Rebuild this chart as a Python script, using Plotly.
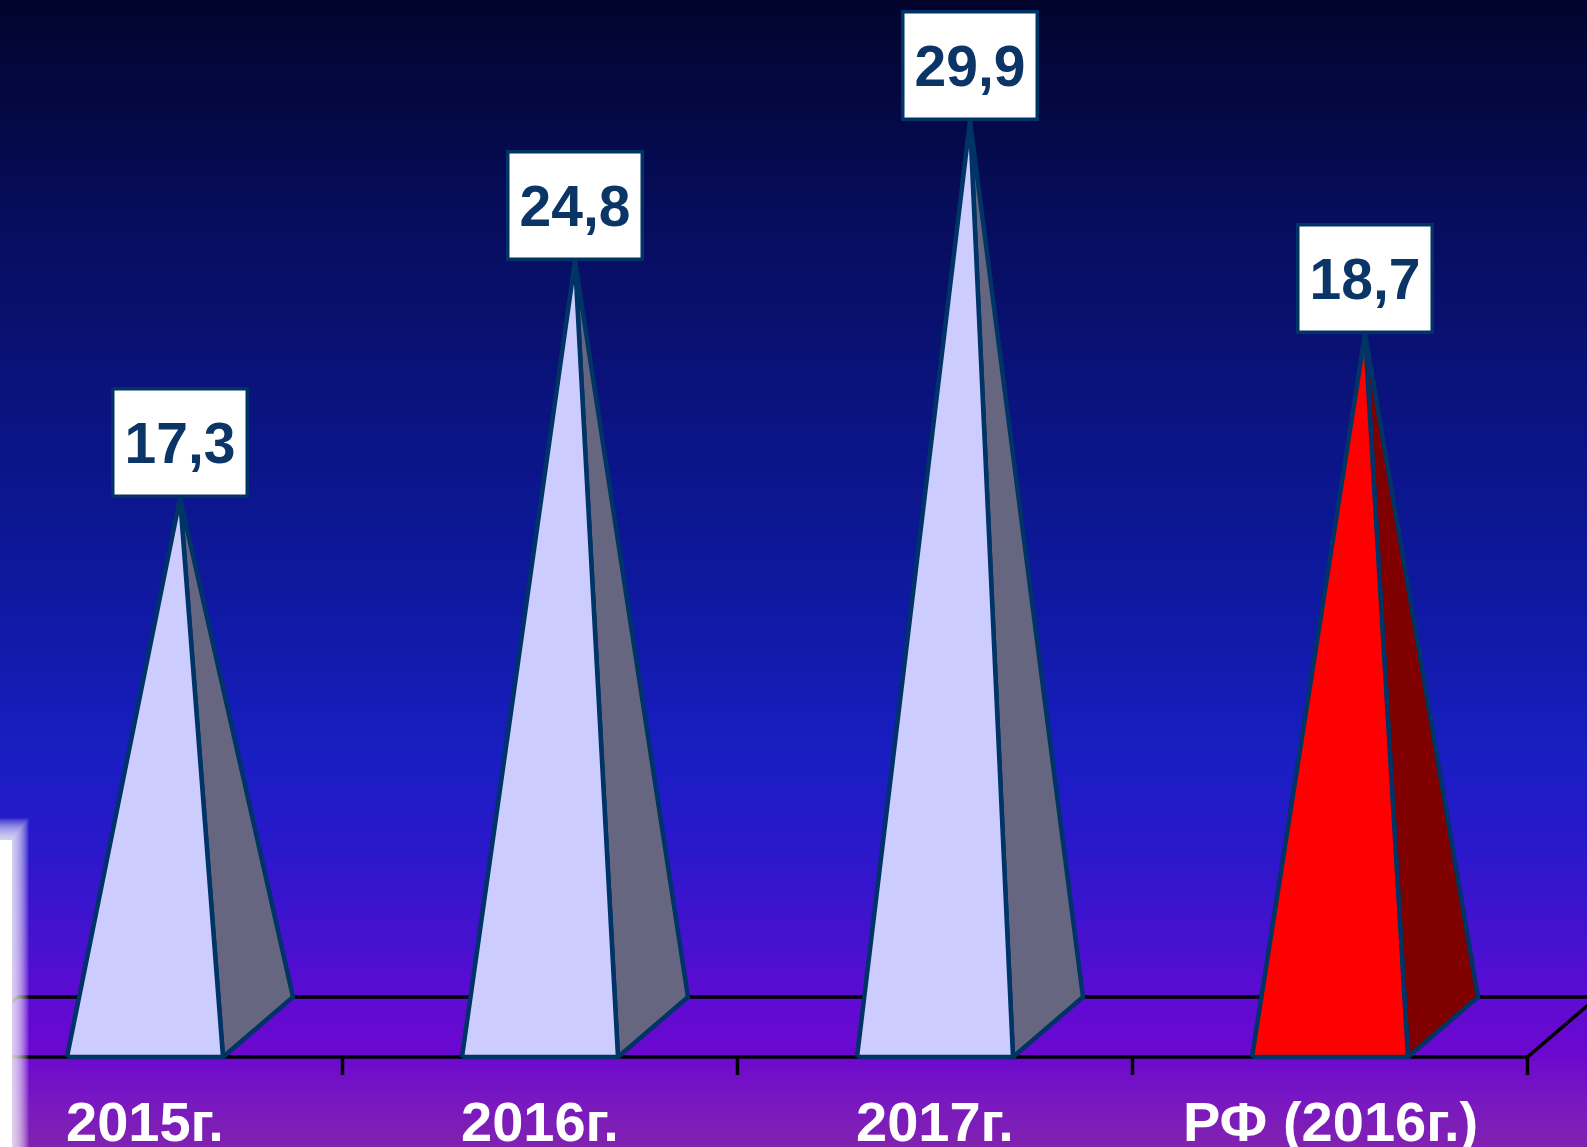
import numpy as np
import plotly.graph_objects as go

# ---------------- data ----------------
categories = ["2015г.", "2016г.", "2017г.", "РФ (2016г.)"]
values = [17.3, 24.8, 29.9, 18.7]                 # printed values
value_labels = ["17,3", "24,8", "29,9", "18,7"]
# apex heights as drawn in the original picture (RF pyramid is drawn taller than its label)
pyramid_heights = [17.4, 25.2, 29.8, 22.8]
front_colors = ["#ccccff", "#ccccff", "#ccccff", "#ff0000"]
side_colors = ["#666680", "#666680", "#666680", "#800000"]

# ---------------- geometry / styles ----------------
W, H = 1587, 1147
PX_X = 395.0          # px per category
X_ORIGIN = 145.0      # px position of category 0 (front face centre)
PX_Y = 30.4           # px per value unit
Y_ORIGIN = 1027.0     # px (from top) of value 0
xr = [-X_ORIGIN / PX_X, (W - X_ORIGIN) / PX_X]
yr = [-(H - Y_ORIGIN) / PX_Y, Y_ORIGIN / PX_Y]

HALF = 78.0 / PX_X     # half base width
DX = 70.0 / PX_X       # depth offset in x
FRONT = -30.0 / PX_Y   # floor front edge
BACK = 30.0 / PX_Y     # floor back edge
TICK = 18.0 / PX_Y

OUTLINE = "#003366"
LABEL_COLOR = "#0b3566"
FONT = "Liberation Sans, Arial, sans-serif"

fig = go.Figure()

# ---------------- background gradient ----------------
stops = [
    (0.00, "#02042c"), (0.09, "#040842"), (0.17, "#060c58"), (0.35, "#0a137e"),
    (0.52, "#0e19a0"), (0.66, "#191ec2"), (0.74, "#2a18cb"), (0.83, "#4a10d0"),
    (0.87, "#5e0bd2"), (0.92, "#6c08d0"), (0.96, "#7818c0"), (1.00, "#8222b0"),
]
ys = np.linspace(yr[0] - 1, yr[1] + 1, 300)
zpix = (Y_ORIGIN - ys * PX_Y) / H
zpix = np.clip(zpix, 0, 1)
fig.add_trace(go.Heatmap(
    x=[xr[0] - 1, xr[1] + 1], y=ys, z=[[v, v] for v in zpix],
    colorscale=[[s, c] for s, c in stops], zmin=0, zmax=1,
    zsmooth="best", showscale=False, hoverinfo="skip",
))

# ---------------- floor ----------------
n = len(categories)
fx, fy = [], []
left, right = -0.5, n - 0.5
for seg in [
    [(left + DX, BACK), (right + DX, BACK)],
    [(left, FRONT), (right, FRONT)],
    [(left, FRONT), (left + DX, BACK)],
    [(right, FRONT), (right + DX, BACK)],
]:
    for (a, b) in seg:
        fx.append(a); fy.append(b)
    fx.append(None); fy.append(None)
for i in range(n):
    fx += [i + 0.5, i + 0.5, None]
    fy += [FRONT, FRONT - TICK, None]
fig.add_trace(go.Scatter(x=fx, y=fy, mode="lines",
                         line=dict(color="black", width=3.5),
                         hoverinfo="skip"))

# ---------------- pyramids ----------------
for i, h in enumerate(pyramid_heights):
    c = i
    fl = (c - HALF, FRONT)
    fr = (c + HALF, FRONT)
    br = (c + HALF + DX, BACK)
    apex = (c + DX / 2, h)
    side = [fr, br, apex, fr]
    front = [fl, fr, apex, fl]
    fig.add_trace(go.Scatter(
        x=[p[0] for p in side], y=[p[1] for p in side], mode="lines",
        fill="toself", fillcolor=side_colors[i],
        line=dict(color=OUTLINE, width=4.5), hoverinfo="skip"))
    fig.add_trace(go.Scatter(
        x=[p[0] for p in front], y=[p[1] for p in front], mode="lines",
        fill="toself", fillcolor=front_colors[i],
        line=dict(color=OUTLINE, width=4.5), hoverinfo="skip"))
    # value label box
    fig.add_annotation(
        x=apex[0], y=h, xref="x", yref="y", text=value_labels[i],
        showarrow=False, xanchor="center", yanchor="bottom",
        width=127, height=100, bgcolor="white", bordercolor=OUTLINE,
        borderwidth=3.5, borderpad=2,
        font=dict(family=FONT, size=57, color=LABEL_COLOR, weight="bold"))
    # category label
    fig.add_annotation(
        x=c, y=-(1121 - Y_ORIGIN) / PX_Y, xref="x", yref="y",
        text=categories[i], showarrow=False, xanchor="center",
        yanchor="middle",
        font=dict(family=FONT, size=56, color="white", weight="bold"))

# ---------------- white blurred strip at left edge ----------------
def px(xp):
    return xp / W


def py(yp):
    return 1 - yp / H


shapes = []
shapes.append(dict(type="rect", xref="paper", yref="paper",
                   x0=0, x1=px(12), y0=py(H + 5), y1=py(840),
                   fillcolor="white", line=dict(width=0), layer="above"))
for k in range(18):
    w = 10 + 1.1 * k
    top = 842 - 1.4 * k
    shapes.append(dict(type="rect", xref="paper", yref="paper",
                       x0=0, x1=px(w), y0=py(H + 5), y1=py(top),
                       fillcolor="white", opacity=0.10,
                       line=dict(width=0), layer="above"))

fig.update_layout(
    width=W, height=H, autosize=False,
    margin=dict(l=0, r=0, t=0, b=0, pad=0),
    paper_bgcolor="#02042c", plot_bgcolor="#02042c",
    showlegend=False, shapes=shapes,
    xaxis=dict(range=xr, visible=False, fixedrange=True),
    yaxis=dict(range=yr, visible=False, fixedrange=True),
)

fig.write_html("out.html", config={"displayModeBar": False},
               post_script="document.body.style.margin='0';document.body.style.overflow='hidden';")
